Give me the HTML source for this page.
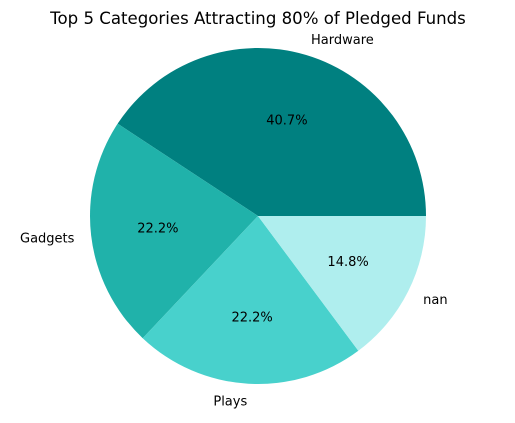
<!DOCTYPE html>
<html><head><meta charset="utf-8"><style>
body{margin:0;background:#fff}
svg text{font-family:"DejaVu Sans","Liberation Sans",sans-serif}
</style></head><body>
<svg id="chart" width="515" height="418" viewBox="0 0 515 418">
<text x="258" y="24" text-anchor="middle" font-size="16.6">Top 5 Categories Attracting 80% of Pledged Funds</text>
<g id="slices"></g>
</svg>
<script>
const categories = ["Hardware","Gadgets","Plays","nan"];
const values = [11,6,6,4];
const colors = ["#008080","#20B2AA","#48D1CC","#AFEEEE"];
const cx=258, cy=216, r=168;
const g=document.getElementById('slices');
const ns="http://www.w3.org/2000/svg";
const total=values.reduce((a,b)=>a+b,0);
let start=0;
function pt(a,rr){return [cx+rr*Math.cos(a), cy-rr*Math.sin(a)];}
values.forEach((v,i)=>{
  const sweep=v/total*2*Math.PI, end=start+sweep;
  const [x1,y1]=pt(start,r),[x2,y2]=pt(end,r);
  const p=document.createElementNS(ns,'path');
  p.setAttribute('d',`M${cx},${cy} L${x1},${y1} A${r},${r} 0 ${sweep>Math.PI?1:0} 0 ${x2},${y2} Z`);
  p.setAttribute('fill',colors[i]);
  
  
  g.appendChild(p);
  const mid=start+sweep/2;
  const [lx,ly]=pt(mid,r*1.1);
  const t=document.createElementNS(ns,'text');
  t.setAttribute('x',lx);t.setAttribute('y',ly+5);t.setAttribute('font-size','13');
  t.setAttribute('text-anchor',Math.cos(mid)>0.01?'start':(Math.cos(mid)<-0.01?'end':'middle'));
  t.textContent=categories[i];
  
  
  g.appendChild(t);
  const [px,py]=pt(mid,r*0.6);
  const q=document.createElementNS(ns,'text');
  q.setAttribute('x',px);q.setAttribute('y',py+5);q.setAttribute('font-size','13');
  q.setAttribute('text-anchor','middle');
  q.textContent=(v/total*100).toFixed(1)+'%';
  
  
  g.appendChild(q);
  start=end;
});
</script>
</body></html>
